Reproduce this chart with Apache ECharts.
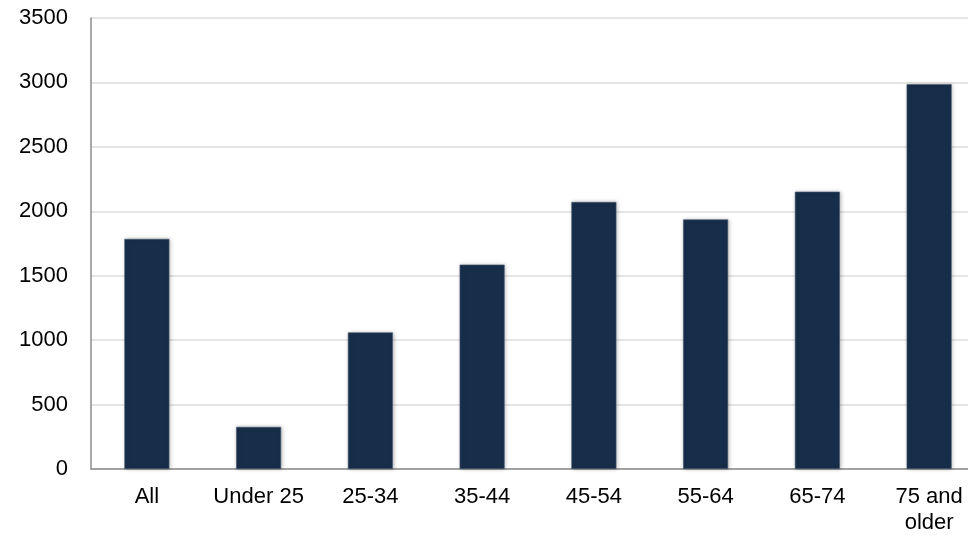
<!DOCTYPE html>
<html>
<head>
<meta charset="utf-8">
<script src="https://cdn.jsdelivr.net/npm/echarts@6/dist/echarts.min.js"></script>
<style>
html,body{margin:0;padding:0;background:#fff;overflow:hidden;width:968px;height:540px;}
#chart{width:990px;height:540px;}
</style>
</head>
<body>
<div id="chart"></div>
<script>
const categories = ['All', 'Under 25', '25-34', '35-44', '45-54', '55-64', '65-74', '75 and\nolder'];
const values = [1786, 327, 1060, 1586, 2072, 1937, 2152, 2986];
const yTicks = { min: 0, max: 3500, interval: 500 };

const chart = echarts.init(document.getElementById('chart'));
chart.setOption({
  animation: false,
  grid: { left: 91, top: 18, bottom: 71, right: 5, containLabel: false },
  xAxis: {
    type: 'category',
    data: categories,
    axisLine: { show: true, lineStyle: { color: '#8c8c8c', width: 1.5 } },
    axisTick: { show: false },
    axisLabel: { color: '#000', fontSize: 22, fontFamily: 'Liberation Sans', margin: 15, lineHeight: 26, interval: 0 }
  },
  yAxis: {
    type: 'value',
    min: yTicks.min, max: yTicks.max, interval: yTicks.interval,
    axisLine: { show: true, lineStyle: { color: '#8c8c8c', width: 1.5 } },
    axisTick: { show: false },
    splitLine: { show: true, lineStyle: { color: '#dcdcdc', width: 1.5 } },
    axisLabel: { color: '#000', fontSize: 22, fontFamily: 'Liberation Sans', margin: 23, padding: [4, 0, 0, 0], formatter: function (v) { return String(v); } }
  },
  series: [{
    type: 'bar',
    data: values,
    barWidth: 45,
    itemStyle: {
      color: '#172e4a',
      borderColor: '#4a5a6e',
      borderWidth: 0.6,
      shadowColor: 'rgba(0,0,0,0.25)',
      shadowBlur: 4,
      shadowOffsetX: 1,
      shadowOffsetY: 0
    }
  }]
});
</script>
</body>
</html>
